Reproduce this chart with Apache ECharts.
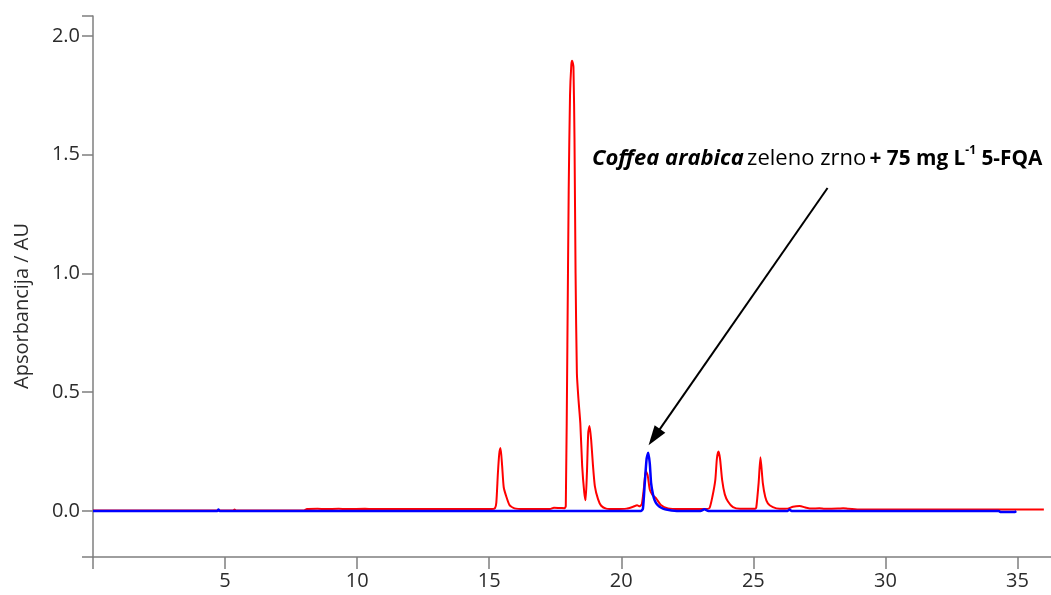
<!DOCTYPE html>
<html>
<head>
<meta charset="utf-8">
<script src="https://cdn.jsdelivr.net/npm/echarts@6/dist/echarts.min.js"></script>
<style>
html,body{margin:0;padding:0;background:#fff;}
#chart{width:1051px;height:595px;}
</style>
</head>
<body>
<div id="chart"></div>
<script>
// ---- data ----
const xTickValues = [0, 5, 10, 15, 20, 25, 30, 35];
const xLabelValues = [5, 10, 15, 20, 25, 30, 35];
const yLabelValues = [0, 0.5, 1.0, 1.5, 2.0];
const yAxisName = 'Apsorbancija / AU';

// red trace: Coffea arabica green bean sample (time min, absorbance AU)
const sampleTrace = [
  [0,0.002],[2,0.002],[4,0.002],[5.3,0.002],[5.36,0.006],[5.42,0.002],[8.0,0.003],[8.1,0.008],
  [8.5,0.009],[8.8,0.008],[9.3,0.009],[9.6,0.008],[10.3,0.009],[10.6,0.008],[12,0.008],[14,0.008],
  [15.1,0.008],[15.22,0.012],[15.27,0.035],[15.33,0.16],[15.38,0.24],[15.43,0.265],[15.49,0.19],
  [15.55,0.10],[15.65,0.06],[15.77,0.025],[15.96,0.011],[16.3,0.008],[17.3,0.008],[17.45,0.014],
  [17.7,0.013],[17.85,0.012],[17.9,0.02],[17.96,0.7],[18.01,1.35],[18.06,1.75],[18.11,1.88],[18.14,1.896],
  [18.19,1.87],[18.23,1.56],[18.27,1.0],[18.32,0.58],[18.38,0.47],[18.45,0.37],[18.52,0.19],
  [18.6,0.077],[18.65,0.045],[18.70,0.16],[18.75,0.33],[18.80,0.358],[18.86,0.30],[18.93,0.19],
  [19.0,0.105],[19.12,0.05],[19.24,0.022],[19.43,0.01],[19.8,0.008],[20.2,0.01],[20.45,0.018],
  [20.6,0.024],[20.7,0.02],[20.78,0.03],[20.86,0.10],[20.93,0.168],[21.0,0.15],[21.08,0.09],
  [21.18,0.068],[21.32,0.053],[21.5,0.025],[21.77,0.011],[22.2,0.008],[23.2,0.008],[23.34,0.012],
  [23.45,0.06],[23.56,0.13],[23.62,0.22],[23.68,0.25],[23.74,0.22],[23.82,0.13],[23.92,0.07],
  [24.04,0.04],[24.23,0.016],[24.5,0.009],[25.05,0.009],[25.11,0.014],[25.2,0.117],[25.27,0.226],
  [25.36,0.117],[25.45,0.06],[25.55,0.032],[25.74,0.016],[26.0,0.009],[26.3,0.01],[26.5,0.018],
  [26.75,0.021],[27.0,0.014],[27.2,0.01],[27.5,0.012],[27.7,0.009],[28.2,0.01],[28.4,0.012],
  [28.6,0.009],[29,0.006],[34.2,0.006],[35,0.006],[36.0,0.006]
];

// blue trace: 5-FQA standard (75 mg/L)
const standardTrace = [
  [0,0],[4.7,0],[4.75,0.006],[4.8,0],[20.75,0],[20.82,0.01],[20.89,0.117],[20.96,0.22],
  [21.02,0.245],[21.08,0.2],[21.13,0.117],[21.2,0.07],[21.26,0.046],[21.35,0.028],[21.45,0.018],
  [21.58,0.01],[21.7,0.006],[21.9,0.002],[22.1,0],[23.0,0],[23.15,0.007],[23.3,0],[26.3,0],
  [26.37,0.006],[26.45,0],[34.3,0],[34.35,-0.004],[34.9,-0.004],[34.95,0]
];

// annotation arrow (data coordinates): tail, head
const arrowTail = [27.81, 1.36];
const arrowHead = [21.25, 0.311];

const chart = echarts.init(document.getElementById('chart'), null, {renderer: 'canvas'});
const axisColor = '#7f7f7f';
const labelColor = '#2b2b2b';
const tickFont = '"Open Sans", sans-serif';

chart.setOption({
  animation: false,
  backgroundColor: '#ffffff',
  grid: {left: 93, right: 0, top: 16, bottom: 38},
  xAxis: {
    type: 'value',
    min: 0,
    max: 36.27,
    axisLine: {show: true, onZero: false, lineStyle: {color: axisColor, width: 1.5}},
    axisTick: {show: true, customValues: xTickValues, length: 12, lineStyle: {color: axisColor, width: 1.5}},
    axisLabel: {customValues: xLabelValues, margin: 14, color: labelColor, fontSize: 20, fontFamily: tickFont},
    splitLine: {show: false}
  },
  yAxis: {
    type: 'value',
    min: -0.1937,
    max: 2.0842,
    axisLine: {show: true, onZero: false, lineStyle: {color: axisColor, width: 1.5}},
    axisTick: {show: true, customValues: [-0.1937, 0, 0.5, 1.0, 1.5, 2.0, 2.0842], length: 11,
               lineStyle: {color: axisColor, width: 1.5}},
    axisLabel: {customValues: yLabelValues, margin: 13, color: labelColor, fontSize: 20, fontFamily: tickFont,
                formatter: v => v.toFixed(1)},
    splitLine: {show: false}
  },
  graphic: [
    {
      type: 'text', x: 22, y: 306, rotation: Math.PI / 2,
      style: {text: yAxisName, fill: labelColor, font: '20px "Open Sans", sans-serif',
              align: 'center', verticalAlign: 'middle'}
    },
    {
      type: 'text', x: 592, y: 159,
      style: {
        text: '{it|Coffea arabica} {b|zeleno zrno} {b2|+ 75 mg L}{sup|-1}{b2| 5-FQA}',
        align: 'left', verticalAlign: 'middle',
        rich: {
          it: {fontFamily: '"Open Sans"', fontStyle: 'italic', fontWeight: 'bold', fontSize: 22, fill: '#000', lineHeight: 28},
          b: {fontFamily: '"Open Sans"', fontWeight: 'normal', fontSize: 22, fill: '#000', lineHeight: 28},
          b2: {fontFamily: '"Open Sans"', fontWeight: 'bold', fontSize: 20.8, fill: '#000', lineHeight: 28},
          sup: {fontFamily: '"Open Sans"', fontWeight: 'bold', fontSize: 12, fill: '#000', lineHeight: 28, verticalAlign: 'top'}
        }
      }
    }
  ],
  series: [
    {
      name: 'Coffea arabica', type: 'line', data: sampleTrace, showSymbol: false, smooth: 0.2,
      lineStyle: {color: '#ff0000', width: 2}, z: 2
    },
    {
      name: '5-FQA', type: 'line', data: standardTrace, showSymbol: false, smooth: 0.2,
      lineStyle: {color: '#0000ff', width: 2.5}, z: 3,
      markLine: {
        silent: true, animation: false,
        symbol: ['none', 'triangle'], symbolSize: [13, 20],
        lineStyle: {color: '#000', width: 2, type: 'solid'},
        label: {show: false},
        data: [[{coord: arrowTail}, {coord: arrowHead}]]
      }
    }
  ]
});
</script>
</body>
</html>
